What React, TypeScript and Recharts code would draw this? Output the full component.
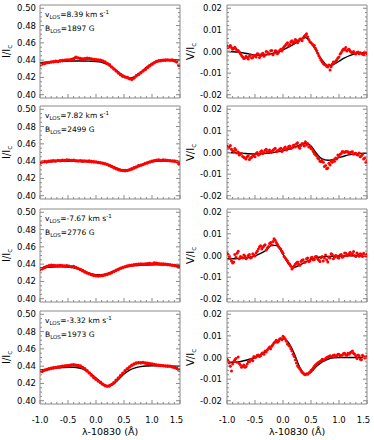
import React from 'react';
import { ComposedChart, Scatter, Line, XAxis, YAxis } from 'recharts';

// ---------------- data ----------------
const WL = [
  -1.0, -0.96, -0.92, -0.88, -0.84, -0.8, -0.76, -0.72, -0.68, -0.64,
  -0.6, -0.56, -0.52, -0.48, -0.44, -0.4, -0.36, -0.32, -0.28, -0.24,
  -0.2, -0.16, -0.12, -0.08, -0.04, 0.0, 0.04, 0.08, 0.12, 0.16,
  0.2, 0.24, 0.28, 0.32, 0.36, 0.4, 0.44, 0.48, 0.52, 0.56,
  0.6, 0.64, 0.68, 0.72, 0.76, 0.8, 0.84, 0.88, 0.92, 0.96,
  1.0, 1.04, 1.08, 1.12, 1.16, 1.2, 1.24, 1.28, 1.32, 1.36,
  1.4, 1.44, 1.48,
];
// interleaved wavelength samples (Stokes V panels are sampled more densely)
const WL2 = [
  -0.98, -0.94, -0.9, -0.86, -0.82, -0.78, -0.74, -0.7, -0.66, -0.62,
  -0.58, -0.54, -0.5, -0.46, -0.42, -0.38, -0.34, -0.3, -0.26, -0.22,
  -0.18, -0.14, -0.1, -0.06, -0.02, 0.02, 0.06, 0.1, 0.14, 0.18,
  0.22, 0.26, 0.3, 0.34, 0.38, 0.42, 0.46, 0.5, 0.54, 0.58,
  0.62, 0.66, 0.7, 0.74, 0.78, 0.82, 0.86, 0.9, 0.94, 0.98,
  1.02, 1.06, 1.1, 1.14, 1.18, 1.22, 1.26, 1.3, 1.34, 1.38,
  1.42, 1.46, 1.5,
];

const FIT_WL = [
  -1.0, -0.9, -0.8, -0.7, -0.6, -0.5, -0.4, -0.3, -0.2, -0.1,
  0.0, 0.1, 0.2, 0.3, 0.4, 0.5, 0.6, 0.7, 0.8, 0.9,
  1.0, 1.1, 1.2, 1.3, 1.4, 1.5,
];

const I1_OBS = [
  0.4345, 0.4355, 0.4362, 0.437, 0.4372, 0.4378, 0.4382, 0.4388, 0.4385, 0.4392,
  0.4395, 0.4398, 0.4402, 0.44, 0.4408, 0.4415, 0.4432, 0.4425, 0.4418, 0.4412,
  0.4415, 0.442, 0.4418, 0.4412, 0.4408, 0.4405, 0.4402, 0.4398, 0.439, 0.4378,
  0.4362, 0.4345, 0.432, 0.4298, 0.4275, 0.4252, 0.4232, 0.4215, 0.4205, 0.4198,
  0.4185, 0.4178, 0.4195, 0.4218, 0.4235, 0.4255, 0.4275, 0.4292, 0.4315, 0.4335,
  0.4352, 0.437, 0.4385, 0.4392, 0.4395, 0.4398, 0.44, 0.4402, 0.4398, 0.44,
  0.4392, 0.438, 0.434,
];
const V1_OBS = [
  0.0025, 0.0022, 0.0018, 0.0015, 0.0012, 0.0005, -0.001, -0.0025, -0.003, -0.0028,
  -0.0022, -0.003, -0.0018, -0.0025, -0.0012, -0.002, -0.0008, -0.0015, -0.0002, -0.001,
  0.0005, -0.0008, 0.0002, -0.0005, 0.001, 0.0015, 0.0028, 0.004, 0.0032, 0.005,
  0.0045, 0.0052, 0.0048, 0.0058, 0.0062, 0.0075, 0.0068, 0.0045, 0.0035, 0.0028,
  0.0005, -0.002, -0.004, -0.0055, -0.0062, -0.0072, -0.0085, -0.0058, -0.0052, -0.0038,
  -0.0025, -0.0005, 0.0012, 0.0018, 0.0008, 0.0002, -0.0005, -0.0008, -0.0005, -0.001,
  -0.0008, -0.0015, -0.0005,
];
const V1_OBS2 = [
  0.0018, 0.0028, 0.001, 0.002, 0.0005, -0.0002, -0.0018, -0.0032, -0.0022, -0.0035,
  -0.0015, -0.0028, -0.002, -0.001, -0.0028, -0.0012, -0.0022, 0.0, -0.0012, 0.0003,
  -0.0015, 0.0003, -0.001, 0.0005, 0.0002, 0.0022, 0.0035, 0.0025, 0.0045, 0.0038,
  0.0055, 0.004, 0.0058, 0.005, 0.007, 0.0082, 0.0055, 0.004, 0.003, 0.0015,
  -0.0008, -0.003, -0.0048, -0.006, -0.0068, -0.0062, -0.007, -0.0048, -0.0045, -0.003,
  -0.0012, 0.0005, 0.0008, 0.0002, 0.001, -0.0003, 0.0, -0.0012, -0.0002, -0.0006,
  -0.0012, -0.0002, -0.001,
];
const I2_OBS = [
  0.4378, 0.439, 0.4395, 0.4392, 0.4398, 0.44, 0.4405, 0.4402, 0.4408, 0.4405,
  0.441, 0.4408, 0.4412, 0.441, 0.4408, 0.441, 0.4405, 0.4402, 0.4405, 0.44,
  0.4402, 0.4398, 0.44, 0.4395, 0.4392, 0.439, 0.4385, 0.4382, 0.4375, 0.437,
  0.4362, 0.435, 0.4338, 0.4325, 0.4312, 0.4302, 0.4295, 0.4292, 0.429, 0.4292,
  0.43, 0.431, 0.4322, 0.4332, 0.4345, 0.4352, 0.4362, 0.4372, 0.438, 0.439,
  0.4398, 0.4405, 0.441, 0.4412, 0.4408, 0.4412, 0.441, 0.4408, 0.4405, 0.4402,
  0.44, 0.4395, 0.437,
];
const V2_OBS = [
  0.003, 0.0025, 0.0015, 0.0005, 0.0012, 0.0002, -0.0008, -0.0018, -0.0025, -0.002,
  -0.0032, -0.0022, -0.0015, -0.0005, -0.0012, 0.0003, -0.0005, 0.001, 0.0002, 0.0012,
  0.0005, 0.0015, 0.0003, 0.001, 0.002, 0.0012, 0.0025, 0.0018, 0.003, 0.0022,
  0.0035, 0.004, 0.0025, 0.0032, 0.0038, 0.005, 0.0042, 0.003, 0.0015, -0.0005,
  -0.0015, -0.003, -0.0042, -0.0045, -0.006, -0.0072, -0.0058, -0.0045, -0.004, -0.003,
  -0.0018, -0.0005, 0.0002, 0.0005, 0.0003, 0.0, 0.0004, -0.0005, -0.001, -0.0002,
  -0.0015, -0.003, -0.0045,
];
const V2_OBS2 = [
  0.002, 0.0032, 0.0008, 0.0018, -0.0002, -0.0012, -0.0005, -0.0022, -0.003, -0.0015,
  -0.0025, -0.001, -0.002, 0.0, -0.0008, 0.0008, 0.0, 0.0015, 0.0006, 0.0,
  0.001, 0.002, 0.0008, 0.0015, 0.0005, 0.002, 0.0012, 0.0028, 0.0018, 0.0032,
  0.0025, 0.0045, 0.002, 0.0042, 0.003, 0.0035, 0.0025, 0.002, 0.0005, -0.001,
  -0.0025, -0.004, -0.0035, -0.0065, -0.0075, -0.005, -0.004, -0.0035, -0.0025, -0.0012,
  -0.0008, 0.0005, 0.0, 0.0003, -0.0003, 0.0002, -0.0008, -0.0004, -0.0012, -0.002,
  -0.0008, -0.0025, -0.0038,
];
const I3_OBS = [
  0.434, 0.4348, 0.436, 0.4372, 0.4382, 0.4388, 0.4385, 0.4382, 0.438, 0.4385,
  0.438, 0.4378, 0.4382, 0.4375, 0.437, 0.4372, 0.4362, 0.435, 0.4338, 0.4325,
  0.431, 0.4298, 0.4288, 0.4278, 0.427, 0.4265, 0.4262, 0.4265, 0.4268, 0.4275,
  0.4282, 0.4292, 0.4302, 0.4315, 0.4328, 0.434, 0.4352, 0.4362, 0.437, 0.4378,
  0.4385, 0.4388, 0.4392, 0.4395, 0.4398, 0.44, 0.4398, 0.4402, 0.4405, 0.4408,
  0.4402, 0.4412, 0.441, 0.4405, 0.4402, 0.44, 0.4398, 0.4395, 0.4392, 0.4388,
  0.4385, 0.4378, 0.4365,
];
const V3_OBS = [
  0.001, -0.0005, -0.0025, -0.003, -0.0008, 0.002, -0.0005, -0.0012, -0.0002, -0.001,
  0.0005, -0.0008, 0.0002, 0.0012, 0.003, 0.0045, 0.0038, 0.005, 0.0035, 0.0055,
  0.0048, 0.0078, 0.006, 0.0042, 0.003, 0.001, -0.0012, -0.0025, -0.004, -0.0062,
  -0.0048, -0.0035, -0.004, -0.0028, -0.002, -0.003, -0.0012, -0.0025, -0.0008, -0.0018,
  -0.0005, -0.0022, -0.001, -0.0025, 0.0002, -0.003, -0.0012, 0.0005, -0.0008, -0.0002,
  -0.0012, 0.0005, -0.0003, 0.001, 0.0002, 0.0015, 0.0008, 0.0, 0.0012, -0.0003,
  0.0005, 0.001, -0.0002,
];
const V3_OBS2 = [
  0.0005, -0.0015, -0.0035, 0.0005, 0.001, -0.0015, -0.0008, 0.0002, -0.0015, 0.0,
  -0.0012, 0.0008, -0.0002, 0.002, 0.004, 0.003, 0.0045, 0.0025, 0.0042, 0.006,
  0.0065, 0.007, 0.0052, 0.0035, 0.002, -0.0005, -0.0018, -0.0035, -0.005, -0.0055,
  -0.004, -0.003, -0.0045, -0.0022, -0.0032, -0.0015, -0.0028, -0.001, -0.002, -0.0005,
  -0.0015, -0.0028, -0.0005, -0.0012, -0.002, -0.0008, 0.0008, -0.0015, 0.0, -0.001,
  0.0002, -0.0008, 0.0012, 0.0, 0.0008, 0.0002, 0.0018, -0.0005, 0.0005, 0.0008,
  -0.0005, 0.0002, 0.0006,
];
const I4_OBS = [
  0.4345, 0.434, 0.4352, 0.436, 0.4368, 0.4375, 0.438, 0.4385, 0.439, 0.4392,
  0.4398, 0.4402, 0.4405, 0.4408, 0.4412, 0.4415, 0.441, 0.4408, 0.44, 0.4385,
  0.4368, 0.4345, 0.432, 0.4295, 0.427, 0.4248, 0.4228, 0.4212, 0.419, 0.4175,
  0.4168, 0.4172, 0.4188, 0.4208, 0.4235, 0.4262, 0.429, 0.4318, 0.4345, 0.437,
  0.439, 0.441, 0.4425, 0.4435, 0.444, 0.4438, 0.4442, 0.4435, 0.4432, 0.4428,
  0.4425, 0.4418, 0.4412, 0.441, 0.4408, 0.4405, 0.4402, 0.44, 0.4398, 0.4392,
  0.4385, 0.4375, 0.4355,
];
const V4_OBS = [
  -0.0008, -0.0025, -0.0062, -0.0018, -0.0005, 0.0002, -0.0035, -0.004, -0.0045, -0.003,
  -0.002, -0.0008, 0.0005, 0.0002, 0.0012, 0.0008, 0.0022, 0.003, 0.0035, 0.0048,
  0.0052, 0.0068, 0.008, 0.0075, 0.0088, 0.0098, 0.0085, 0.0062, 0.0052, 0.003,
  0.0005, -0.0025, -0.0045, -0.006, -0.0072, -0.008, -0.0078, -0.0068, -0.0055, -0.004,
  -0.003, -0.0022, -0.0015, -0.001, -0.0005, 0.0002, 0.0008, 0.0005, 0.0012, 0.0008,
  0.0015, 0.001, 0.0018, 0.0012, 0.002, 0.0022, 0.003, 0.0015, -0.0005, 0.0008,
  -0.001, 0.0005, 0.0002,
];
const V4_OBS2 = [
  -0.0015, -0.004, -0.003, -0.001, -0.0022, -0.0028, -0.0045, -0.0035, -0.0042, -0.002,
  -0.0012, -0.0015, 0.0, 0.001, 0.0005, 0.0018, 0.0015, 0.0025, 0.0042, 0.004,
  0.006, 0.0072, 0.007, 0.0085, 0.0082, 0.0092, 0.0075, 0.0058, 0.004, 0.0015,
  -0.001, -0.0038, -0.0052, -0.0068, -0.0078, -0.0075, -0.0072, -0.006, -0.0048, -0.0035,
  -0.0025, -0.0018, -0.0008, -0.0012, 0.0, 0.0005, 0.0002, 0.001, 0.0005, 0.0015,
  0.0008, 0.0012, 0.002, 0.001, 0.0015, 0.0025, 0.002, 0.0008, 0.0012, -0.0008,
  0.001, -0.0002, 0.0005,
];

const I1_FIT = [
  0.437, 0.4375, 0.438, 0.4383, 0.4386, 0.4388, 0.439, 0.439, 0.439, 0.4388,
  0.4385, 0.4375, 0.4352, 0.4312, 0.4262, 0.4215, 0.4192, 0.421, 0.4258, 0.4318,
  0.4362, 0.4386, 0.4396, 0.44, 0.4401, 0.4401,
];
const V1_FIT = [
  0.0, -0.0001, -0.0003, -0.0007, -0.0012, -0.0016, -0.0017, -0.0015, -0.001, -0.0002,
  0.0008, 0.002, 0.0035, 0.0055, 0.0065, 0.004, 0.0, -0.004, -0.0065, -0.006,
  -0.0045, -0.003, -0.0018, -0.001, -0.0007, -0.0006,
];
const I2_FIT = [
  0.439, 0.4392, 0.4395, 0.4397, 0.4398, 0.4398, 0.4398, 0.4397, 0.4395, 0.4392,
  0.4388, 0.438, 0.4365, 0.434, 0.4312, 0.4295, 0.43, 0.4325, 0.4355, 0.4378,
  0.4393, 0.44, 0.4402, 0.44, 0.4397, 0.4395,
];
const V2_FIT = [
  0.0, -0.0001, -0.0002, -0.0004, -0.0006, -0.0007, -0.0006, -0.0004, -0.0001, 0.0003,
  0.0008, 0.0015, 0.0024, 0.0035, 0.0044, 0.003, -0.0005, -0.003, -0.0036, -0.0032,
  -0.0024, -0.0016, -0.001, -0.0006, -0.0004, -0.0003,
];
const I3_FIT = [
  0.4355, 0.4362, 0.4367, 0.437, 0.437, 0.4367, 0.4358, 0.434, 0.4313, 0.429,
  0.4278, 0.4278, 0.429, 0.4315, 0.4342, 0.4362, 0.4375, 0.4383, 0.4388, 0.439,
  0.4392, 0.4392, 0.4392, 0.4391, 0.439, 0.4389,
];
const V3_FIT = [
  -0.0015, -0.0015, -0.0014, -0.0012, -0.0008, -0.0002, 0.001, 0.0024, 0.0048, 0.0045,
  0.0006, -0.0039, -0.0054, -0.0045, -0.003, -0.0018, -0.001, -0.0006, -0.0004, -0.0003,
  -0.0002, -0.0002, -0.0001, -0.0001, -0.0001, 0.0,
];
const I4_FIT = [
  0.4355, 0.4362, 0.437, 0.4377, 0.4383, 0.4388, 0.4387, 0.4378, 0.4358, 0.4318,
  0.4262, 0.4205, 0.4172, 0.419, 0.4245, 0.431, 0.4355, 0.438, 0.4395, 0.4402,
  0.4405, 0.4404, 0.4402, 0.44, 0.4399, 0.4398,
];
const V4_FIT = [
  -0.002, -0.0022, -0.002, -0.0015, -0.0008, 0.0, 0.0012, 0.003, 0.0055, 0.0078,
  0.0086, 0.0068, 0.0018, -0.0045, -0.0078, -0.0068, -0.004, -0.002, -0.0008, -0.0002,
  0.0, 0.0, 0.0, 0.0, 0.0, 0.0,
];

const V_LOS = ['8.39', '7.82', '-7.67', '-3.32'];
const B_LOS = ['1897', '2499', '2776', '1973'];

const X_TICKS = [-1.0, -0.5, 0.0, 0.5, 1.0, 1.5];
const X_MINOR = [
  -1.0, -0.9, -0.8, -0.7, -0.6, -0.5, -0.4, -0.3, -0.2, -0.1,
  0.0, 0.1, 0.2, 0.3, 0.4, 0.5, 0.6, 0.7, 0.8, 0.9,
  1.0, 1.1, 1.2, 1.3, 1.4, 1.5,
];
const I_TICKS = [0.4, 0.42, 0.44, 0.46, 0.48, 0.5];
const I_MINOR = [
  0.4, 0.405, 0.41, 0.415, 0.42, 0.425, 0.43, 0.435, 0.44, 0.445,
  0.45, 0.455, 0.46, 0.465, 0.47, 0.475, 0.48, 0.485, 0.49, 0.495, 0.5,
];
const V_TICKS = [-0.02, -0.01, 0.0, 0.01, 0.02];
const V_MINOR = [
  -0.02, -0.018, -0.016, -0.014, -0.012, -0.01, -0.008, -0.006, -0.004, -0.002,
  0.0, 0.002, 0.004, 0.006, 0.008, 0.01, 0.012, 0.014, 0.016, 0.018, 0.02,
];

const X_DOMAIN: [number, number] = [-1.0, 1.5];
const I_DOMAIN: [number, number] = [0.3962, 0.5038];
const V_DOMAIN: [number, number] = [-0.0215, 0.0215];

const ROWS = [
  { iObs: I1_OBS, iFit: I1_FIT, vObs: V1_OBS, vObs2: V1_OBS2, vFit: V1_FIT },
  { iObs: I2_OBS, iFit: I2_FIT, vObs: V2_OBS, vObs2: V2_OBS2, vFit: V2_FIT },
  { iObs: I3_OBS, iFit: I3_FIT, vObs: V3_OBS, vObs2: V3_OBS2, vFit: V3_FIT },
  { iObs: I4_OBS, iFit: I4_FIT, vObs: V4_OBS, vObs2: V4_OBS2, vFit: V4_FIT },
];

// ---------------- layout / style ----------------
const FRAME = '#8a8a8a';
const RED = '#ff0000';
const ROW_TOPS = [5, 106, 209, 311];
const PLOT_H = 93;
const FONT = '"DejaVu Sans", Verdana, sans-serif';
const TICK_FS = 8.5;
const MAJ = 4;
const MIN = 2;

const isMajor = (v: number, majors: number[]) => majors.some((m) => Math.abs(m - v) < 1e-9);

const makeDot = (r: number) => (p: any) => <circle cx={p.cx} cy={p.cy} r={r} fill={RED} />;

const bottomTick = (showLabel: boolean) => (p: any) => {
  const v = p.payload.value;
  const major = isMajor(v, X_TICKS);
  const shift = Math.abs(v - 1.5) < 1e-9 ? -3.5 : 0;
  return (
    <g>
      <line x1={p.x} x2={p.x} y1={p.y} y2={p.y - (major ? MAJ : MIN)} stroke={FRAME} strokeWidth={1} />
      {showLabel && major ? (
        <text x={p.x + shift} y={p.y + 18.5} textAnchor="middle" fontSize={TICK_FS} fill="#000">
          {v.toFixed(1)}
        </text>
      ) : null}
    </g>
  );
};

const topTick = (p: any) => {
  const major = isMajor(p.payload.value, X_TICKS);
  return <line x1={p.x} x2={p.x} y1={p.y} y2={p.y + (major ? MAJ : MIN)} stroke={FRAME} strokeWidth={1} />;
};

const leftTick = (majors: number[], gap: number) => (p: any) => {
  const v = p.payload.value;
  const major = isMajor(v, majors);
  const label = Math.abs(v) < 1e-9 ? '0.00' : v.toFixed(2);
  return (
    <g>
      <line x1={p.x} x2={p.x + (major ? MAJ : MIN)} y1={p.y} y2={p.y} stroke={FRAME} strokeWidth={1} />
      {major ? (
        <text x={p.x - gap} y={p.y} dy="0.36em" textAnchor="end" fontSize={TICK_FS} fill="#000">
          {label}
        </text>
      ) : null}
    </g>
  );
};

const rightTick = (majors: number[]) => (p: any) => {
  const major = isMajor(p.payload.value, majors);
  return <line x1={p.x} x2={p.x - (major ? MAJ : MIN)} y1={p.y} y2={p.y} stroke={FRAME} strokeWidth={1} />;
};

const makeYLabel = (main: string, cxAbs: number) => (props: any) => {
  const vb = props.viewBox || { x: 0, y: 0, width: 0, height: 0 };
  const cx = vb.x + cxAbs;
  const cy = vb.y + vb.height / 2;
  return (
    <text
      x={cx}
      y={cy}
      transform={`rotate(-90 ${cx} ${cy})`}
      textAnchor="middle"
      dominantBaseline="central"
      fontSize={10}
      fill="#000"
    >
      {main}
      <tspan dy={3} fontSize={7}>c</tspan>
    </text>
  );
};

function Panel({
  kind,
  obs,
  obs2,
  fit,
  row,
}: {
  kind: 'I' | 'V';
  obs: number[];
  obs2?: number[];
  fit: number[];
  row: number;
}) {
  const isI = kind === 'I';
  const last = row === 3;
  const left = isI ? 0 : 185;
  const width = isI ? 185 : 189;
  const yw = isI ? 40 : 42;
  const rw = isI ? 5 : 7;
  const bh = last ? 36 : 4;
  const top = ROW_TOPS[row] - 5;
  const height = 5 + PLOT_H + bh;
  const dom = isI ? I_DOMAIN : V_DOMAIN;
  const yMaj = isI ? I_TICKS : V_TICKS;
  const yMin = isI ? I_MINOR : V_MINOR;
  const obsData = WL.map((x, i) => ({ x, y: obs[i] })).concat(
    obs2 ? WL2.map((x, i) => ({ x, y: obs2[i] })) : []
  );
  const fitData = FIT_WL.map((x, i) => ({ x, y: fit[i] }));

  return (
    <div style={{ position: 'absolute', left, top, width, height }}>
      <ComposedChart width={width} height={height} margin={{ top: 0, right: 0, bottom: 0, left: 0 }}>
        <XAxis
          xAxisId="b"
          type="number"
          dataKey="x"
          domain={X_DOMAIN}
          allowDataOverflow
          ticks={X_MINOR}
          interval={0}
          height={bh}
          orientation="bottom"
          stroke={FRAME}
          axisLine={{ stroke: FRAME }}
          tickLine={false}
          tickSize={0}
          tickMargin={0}
          tick={bottomTick(last)}
          label={
            last
              ? { value: 'λ-10830 (Å)', position: 'insideTop', offset: 24, fontSize: 9.5, fill: '#000' }
              : undefined
          }
        />
        <XAxis
          xAxisId="t"
          type="number"
          domain={X_DOMAIN}
          allowDataOverflow
          ticks={X_MINOR}
          interval={0}
          height={5}
          orientation="top"
          stroke={FRAME}
          axisLine={{ stroke: FRAME }}
          tickLine={false}
          tickSize={0}
          tickMargin={0}
          tick={topTick}
        />
        <YAxis
          yAxisId="l"
          type="number"
          domain={dom}
          allowDataOverflow
          ticks={yMin}
          interval={0}
          width={yw}
          orientation="left"
          stroke={FRAME}
          axisLine={{ stroke: FRAME }}
          tickLine={false}
          tickSize={0}
          tickMargin={0}
          tick={leftTick(yMaj, isI ? 4 : 5)}
          label={makeYLabel(isI ? 'I/I' : 'V/I', isI ? 6.5 : 5.5)}
        />
        <YAxis
          yAxisId="r"
          type="number"
          domain={dom}
          allowDataOverflow
          ticks={yMin}
          interval={0}
          width={rw}
          orientation="right"
          stroke={FRAME}
          axisLine={{ stroke: FRAME }}
          tickLine={false}
          tickSize={0}
          tickMargin={0}
          tick={rightTick(yMaj)}
        />
        <Scatter
          data={obsData}
          dataKey="y"
          xAxisId="b"
          yAxisId="l"
          fill={RED}
          shape={makeDot(isI ? 1.8 : 1.5)}
          isAnimationActive={false}
        />
        <Line
          data={fitData}
          dataKey="y"
          xAxisId="b"
          yAxisId="l"
          type="monotone"
          stroke="#000"
          strokeWidth={1.4}
          dot={false}
          activeDot={false}
          isAnimationActive={false}
        />
      </ComposedChart>
    </div>
  );
}

function Annotation({ row }: { row: number }) {
  const t = ROW_TOPS[row];
  const sub: React.CSSProperties = { fontSize: 5.5, position: 'relative', top: 1.8 };
  const sup: React.CSSProperties = { fontSize: 5.5, position: 'relative', top: -3.2 };
  const line: React.CSSProperties = {
    position: 'absolute',
    left: 45,
    fontSize: 7.5,
    lineHeight: '10px',
    whiteSpace: 'nowrap',
    color: '#000',
    fontFamily: FONT,
  };
  return (
    <>
      <div style={{ ...line, top: t + 5.4 }}>
        v<span style={sub}>LOS</span>={V_LOS[row]} km s<span style={sup}>-1</span>
      </div>
      <div style={{ ...line, top: t + 18.9 }}>
        B<span style={sub}>LOS</span>={B_LOS[row]} G
      </div>
    </>
  );
}

export default function App() {
  return (
    <div
      style={{
        position: 'absolute',
        left: 0,
        top: 0,
        width: 374,
        height: 440,
        background: '#fff',
        fontFamily: FONT,
        overflow: 'hidden',
      }}
    >
      {ROWS.map((r, i) => (
        <React.Fragment key={i}>
          <Panel kind="I" obs={r.iObs} fit={r.iFit} row={i} />
          <Panel kind="V" obs={r.vObs} obs2={r.vObs2} fit={r.vFit} row={i} />
          <Annotation row={i} />
        </React.Fragment>
      ))}
    </div>
  );
}
